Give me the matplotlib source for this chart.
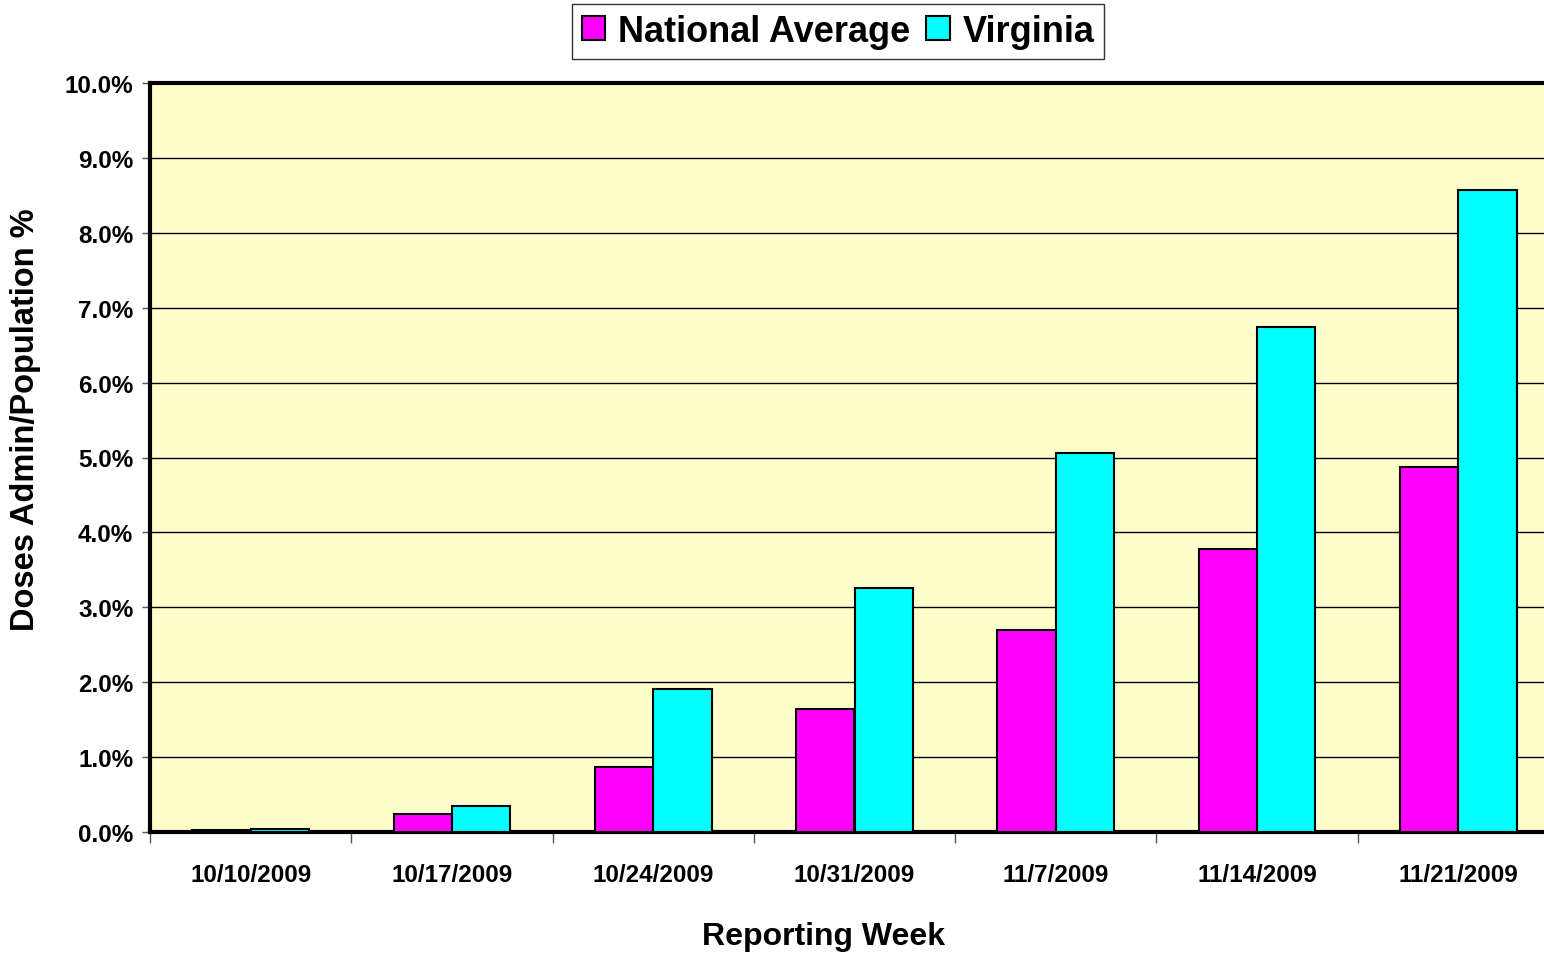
import matplotlib.pyplot as plt
import numpy as np
from matplotlib.ticker import FuncFormatter

plt.rcParams['font.family'] = ['Liberation Sans', 'DejaVu Sans']
plt.rcParams['font.weight'] = 'bold'

weeks = ['10/10/2009', '10/17/2009', '10/24/2009', '10/31/2009',
         '11/7/2009', '11/14/2009', '11/21/2009']
national = [0.03, 0.24, 0.87, 1.64, 2.70, 3.78, 4.87]
virginia = [0.04, 0.35, 1.91, 3.26, 5.06, 6.74, 8.57]

fig = plt.figure(figsize=(15.44, 9.54), dpi=100)
# plot area runs past the right edge of the picture
ax = fig.add_axes([150 / 1544, 1 - 833 / 954, 1409 / 1544, 749 / 954])
ax.set_facecolor('#FFFFCC')

x = np.arange(len(weeks))
w = 0.29
ax.bar(x - w / 2, national, w, color='#FF00FF', edgecolor='black', linewidth=1.5,
       label='National Average', zorder=3)
ax.bar(x + w / 2, virginia, w, color='#00FFFF', edgecolor='black', linewidth=1.5,
       label='Virginia', zorder=3)

ax.set_xlim(-0.5, len(weeks) - 0.5)
ax.set_ylim(0, 10)
ax.set_yticks(np.arange(0, 11, 1))
ax.yaxis.set_major_formatter(FuncFormatter(lambda v, p: '%.1f%%' % v))
ax.grid(axis='y', color='black', linewidth=1, zorder=0)

ax.set_xticks(x)
ax.set_xticklabels(weeks)
ax.set_xticks(np.arange(-0.5, len(weeks), 1), minor=True)
ax.tick_params(axis='x', which='major', length=0, pad=22, labelsize=17.5)
ax.tick_params(axis='x', which='minor', length=8, width=1, color='#555555')
ax.tick_params(axis='y', length=6, width=1, color='#555555', labelsize=17.5, pad=6)

for s in ['left', 'top', 'bottom']:
    ax.spines[s].set_linewidth(3)
ax.spines['right'].set_visible(False)

fig.text(824 / 1544, 1 - 937 / 954, 'Reporting Week', fontsize=23, fontweight='bold',
         ha='center', va='center')
fig.text(26 / 1544, 1 - 420 / 954, 'Doses Admin/Population %', fontsize=23.5,
         fontweight='bold', ha='center', va='center', rotation=90)

leg = fig.legend(loc='upper center', bbox_to_anchor=(838 / 1544, 1 - 5 / 954), ncol=2,
                 frameon=True, fancybox=False, edgecolor='black',
                 handlelength=0.65, handleheight=0.65, handletextpad=0.35,
                 columnspacing=0.45, borderpad=0.27, borderaxespad=0,
                 prop={'weight': 'bold', 'size': 26})
leg.get_frame().set_linewidth(1)

fig.savefig('out.png', dpi=100)
